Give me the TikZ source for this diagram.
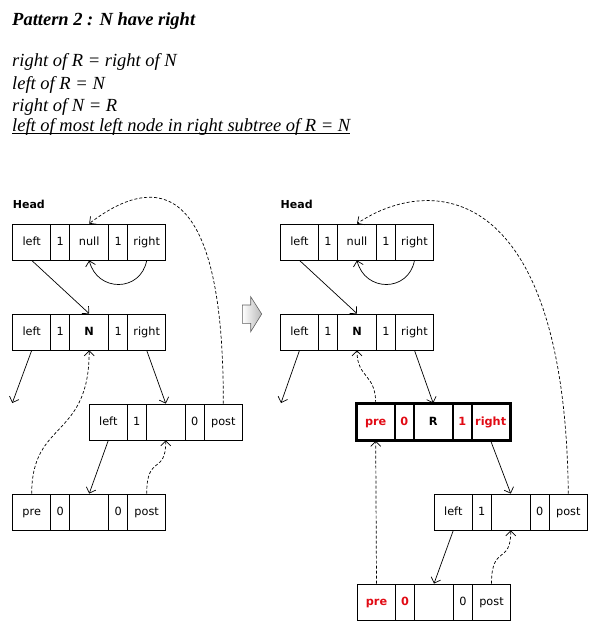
\documentclass[tikz,border=0pt]{standalone}
\usepackage{fontspec}
\setmainfont{Liberation Serif}
\newfontfamily\uifont{DejaVu Sans}
\usetikzlibrary{arrows.meta}
\definecolor{hot}{RGB}{225,10,20}
\tikzset{
  cell/.style={draw, line width=0.8pt, minimum height=36pt, inner sep=0pt,
    font=\uifont\fontsize{11.3}{13}\selectfont, text height=8.3pt, text depth=2.2pt},
  boldcell/.style={cell, line width=1.6pt},
  arr/.style={line width=0.7pt, -{Straight Barb[length=5pt,width=10pt]}},
  darr/.style={arr, dash pattern=on 3pt off 2pt},
  headlbl/.style={anchor=base west, inner sep=0pt, font=\uifont\bfseries\fontsize{11}{13}\selectfont},
  eqline/.style={anchor=base west, inner sep=0pt, font=\fontsize{18.5}{22}\selectfont\itshape},
}
\newcommand\cellrow[9]{%
  \node[#4, minimum width=38pt] (#1a) at (#2+19,#3+18) {#5};
  \node[#4, minimum width=19pt] (#1b) at (#2+47.5,#3+18) {#6};
  \node[#4, minimum width=39pt] (#1c) at (#2+76.5,#3+18) {#7};
  \node[#4, minimum width=19pt] (#1d) at (#2+105.5,#3+18) {#8};
  \node[#4, minimum width=38pt] (#1e) at (#2+134,#3+18) {#9};
}
\newcommand\hot[1]{\textcolor{hot}{\bfseries #1}}
\begin{document}
\begin{tikzpicture}[x=1pt,y=-1pt]
\useasboundingbox (0,0) rectangle (603,633);
% texts
\node[anchor=base west, inner sep=0pt, font=\fontsize{18.5}{22}\selectfont\bfseries\itshape] (title) at (12,25) {Pattern 2 : N have right};
\node[eqline] (l1) at (12,66.7) {right of R = right of N};
\node[eqline] (l2) at (12,89.3) {left of R = N};
\node[eqline] (l3) at (12,111.7) {right of N = R};
\node[eqline] (l4) at (12,131.3) {left of most left node in right subtree of R = N};
\draw[line width=0.8pt] ([yshift=-2pt]l4.base west) -- ([yshift=-2pt]l4.base east);

% left diagram
\node[headlbl] (LHlbl) at (12.7,208.3) {Head};
\cellrow{LH}{12.7}{224}{cell}{left}{1}{null}{1}{right}
\cellrow{LN}{12.7}{314}{cell}{left}{1}{\bfseries N}{1}{right}
\cellrow{LM}{89.3}{404}{cell}{left}{1}{}{0}{post}
\cellrow{LB}{12.7}{494}{cell}{pre}{0}{}{0}{post}
\coordinate (LNfree) at (12.3,403);
\draw[arr] (LHa.south) -- (LNc.north);
\draw[arr] (LHe.south) .. controls +(-6,32) and +(8,32) .. (LHc.south);
\draw[arr] (LNa.south) -- (LNfree);
\draw[arr] (LNe.south) -- (LMc.north);
\draw[darr] (LBa.north) .. controls +(0,-74) and +(0,89) .. (LNc.south);
\draw[arr] (LMa.south) -- (LBc.north);
\draw[darr] (LBe.north) .. controls +(0,-40) and +(0,35) .. (LMc.south);
\draw[darr] (LMe.north) .. controls +(0.7,-244) and +(55,-42) .. (LHc.north);

% block arrow
\path[draw=gray!75!black, line width=0.6pt, left color=white, right color=gray!55]
  (242.3,305) -- (250.7,305) -- (250.7,296.7) -- (261.7,314) -- (250.7,331.7)
  -- (250.7,323.3) -- (242.3,323.3) -- cycle;

% right diagram
\node[headlbl] (RHlbl) at (280.5,208.3) {Head};
\cellrow{RH}{280.5}{224}{cell}{left}{1}{null}{1}{right}
\cellrow{RN}{280.5}{314}{cell}{left}{1}{\bfseries N}{1}{right}
\cellrow{RR}{356.7}{404}{boldcell}{\hot{pre}}{\hot{0}}{\bfseries R}{\hot{1}}{\hot{right}}
\draw[line width=2.6pt] (RRa.north west) rectangle (RRe.south east);
\cellrow{RM}{434.3}{494}{cell}{left}{1}{}{0}{post}
\cellrow{RB}{357.5}{584}{cell}{\hot{pre}}{\hot{0}}{}{0}{post}
\coordinate (RNfree) at (281,403);
\draw[arr] (RHa.south) -- (RNc.north);
\draw[arr] (RHe.south) .. controls +(-6,32) and +(8,32) .. (RHc.south);
\draw[arr] (RNa.south) -- (RNfree);
\draw[arr] (RNe.south) -- (RRc.north);
\draw[darr] (RRa.north) .. controls +(0,-30) and +(0,28) .. (RNc.south);
\draw[arr] (RRe.south) -- (RMc.north);
\draw[darr] (RBa.north) -- (RRa.south);
\draw[arr] (RMa.south) -- (RBc.north);
\draw[darr] (RBe.north) .. controls +(0,-40) and +(0,35) .. (RMc.south);
\draw[darr] (RMe.north) .. controls +(-3.3,-314) and +(73,-49) .. (RHc.north);
\end{tikzpicture}
\end{document}
